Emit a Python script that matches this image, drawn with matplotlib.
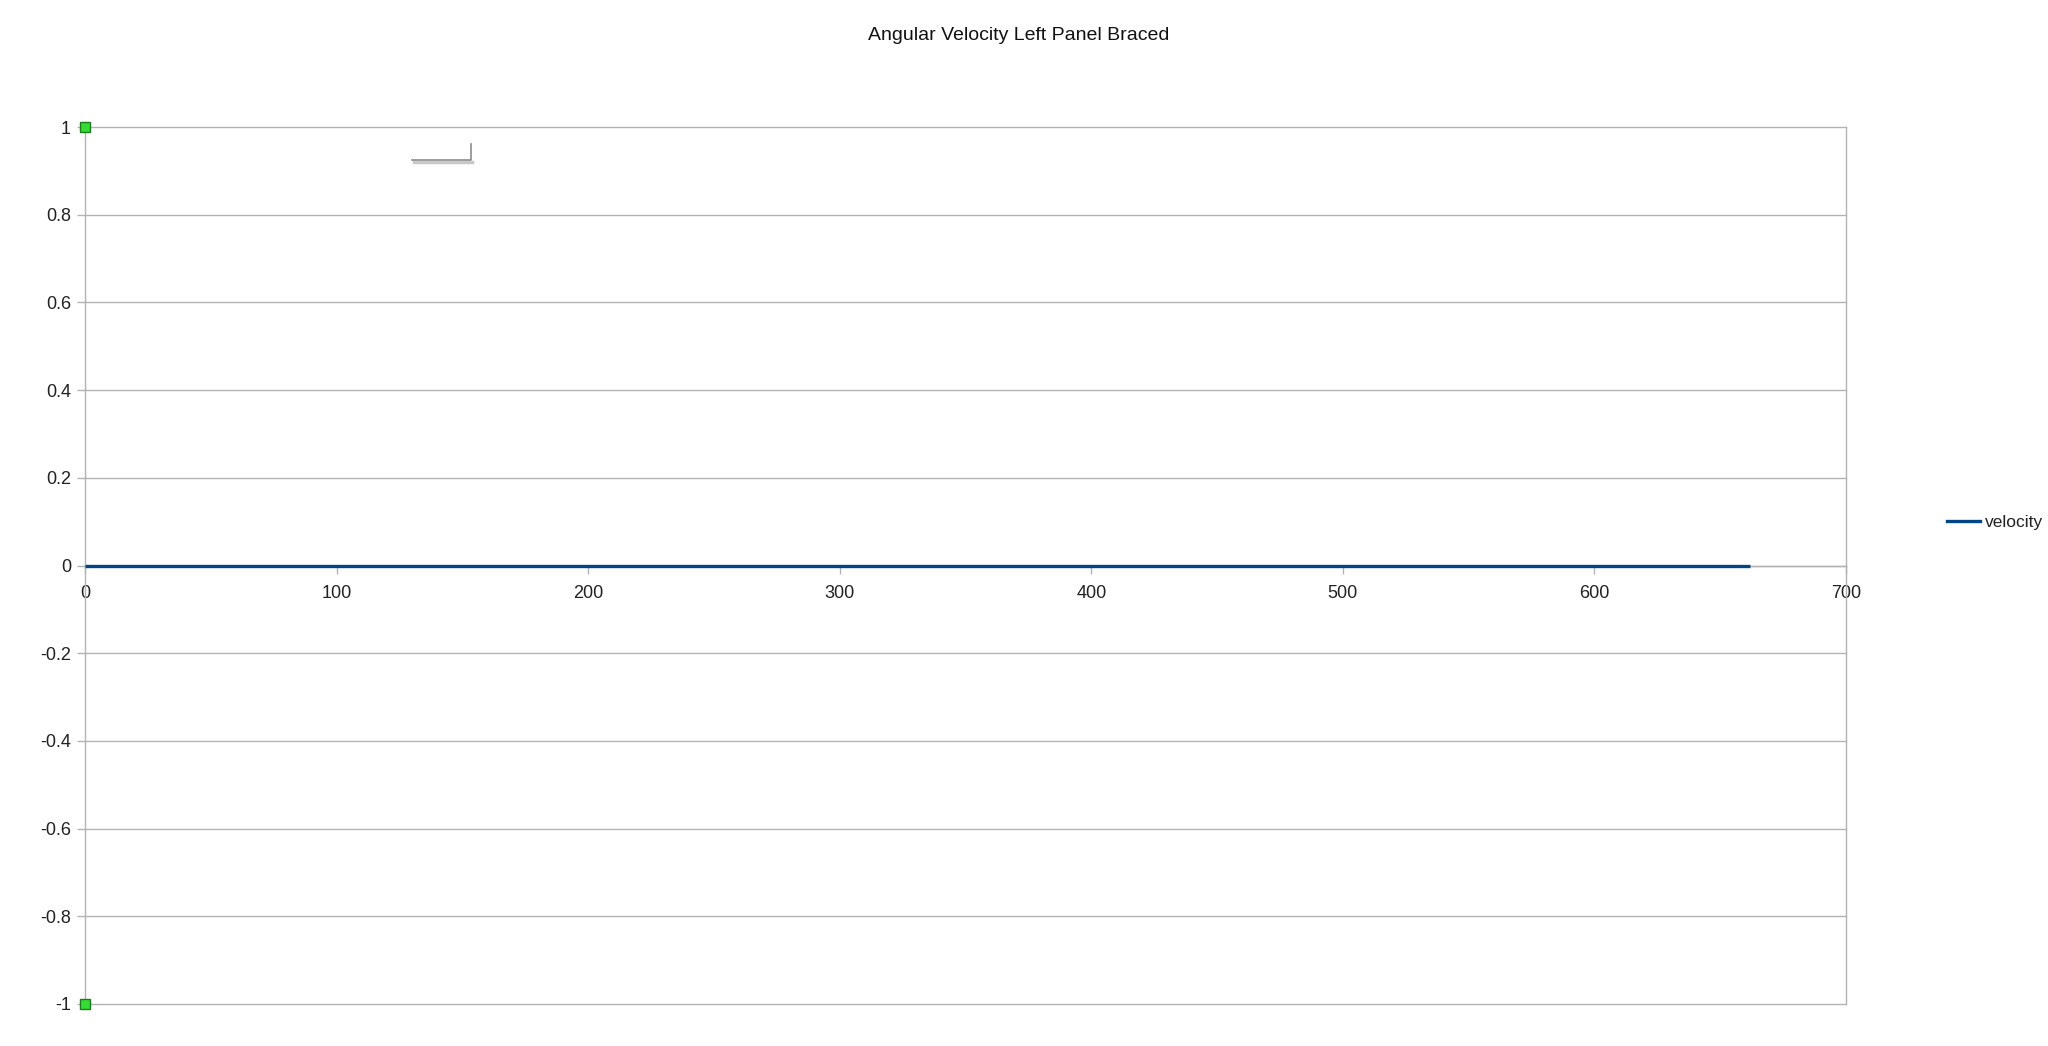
import numpy as np
import matplotlib.pyplot as plt
from matplotlib.lines import Line2D

plt.rcParams['font.family'] = ['Liberation Sans', 'DejaVu Sans']

title = "Angular Velocity Left Panel Braced"
series_name = "velocity"
time = [0, 662]
velocity = [0, 0]
x_ticks = [0, 100, 200, 300, 400, 500, 600, 700]
y_ticks = [-1, -0.8, -0.6, -0.4, -0.2, 0, 0.2, 0.4, 0.6, 0.8, 1]

W, H = 2048, 1046
fig = plt.figure(figsize=(W / 100, H / 100), dpi=100)
ax = fig.add_axes([85 / W, 1 - 1004 / H, (1846 - 85) / W, (1004 - 127) / H])

grid_c = '#b3b3b3'
ax.set_xlim(0, 700)
ax.set_ylim(-1, 1)
ax.set_xticks(x_ticks)
ax.set_yticks(y_ticks)
ax.set_xticklabels([str(t) for t in x_ticks])
ax.set_yticklabels(['{:g}'.format(t) for t in y_ticks])
ax.yaxis.grid(True, color=grid_c, lw=1.0)
for gl in ax.get_ygridlines():
    gl.set_clip_on(False)
ax.set_axisbelow(True)

for s in ['left', 'right', 'bottom']:
    ax.spines[s].set_color(grid_c)
    ax.spines[s].set_linewidth(1.0)
ax.spines['top'].set_visible(False)
ax.spines['bottom'].set_position(('data', 0))
ax.tick_params(axis='both', colors=grid_c, labelcolor='#222222', labelsize=13,
               length=6, width=1)
ax.tick_params(axis='x', pad=8)
ax.tick_params(axis='y', pad=4)

ax.plot(time, velocity, color='#004586', lw=2.4, label=series_name,
        solid_capstyle='butt', zorder=3)

# selection handles at the y-axis ends
ax.plot([0, 0], [1, -1], 's', ms=6.5, mfc='#33dd33', mec='#1f7a1f', mew=1,
        clip_on=False, zorder=5)

fig.text(1019 / W, 1 - 35 / H, title, ha='center', va='center', fontsize=14,
         color='#111111')

fig.legend(handles=[Line2D([], [], color='#004586', lw=2.4)], labels=[series_name],
           loc='center left', bbox_to_anchor=(1947 / W, 1 - 522 / H),
           frameon=False, borderpad=0, borderaxespad=0, handlelength=1.9,
           handletextpad=0.3, fontsize=12.5, labelcolor='#222222')

# small leftover shape near the top
fig.add_artist(Line2D([414 / W, 472 / W], [1 - 162 / H, 1 - 162 / H],
                      color='#c8c8c8', lw=2.5))
fig.add_artist(Line2D([412 / W, 471 / W, 471 / W],
                      [1 - 160 / H, 1 - 160 / H, 1 - 144 / H],
                      color='#8c8c8c', lw=1.2))

fig.savefig('out.png', dpi=100)
